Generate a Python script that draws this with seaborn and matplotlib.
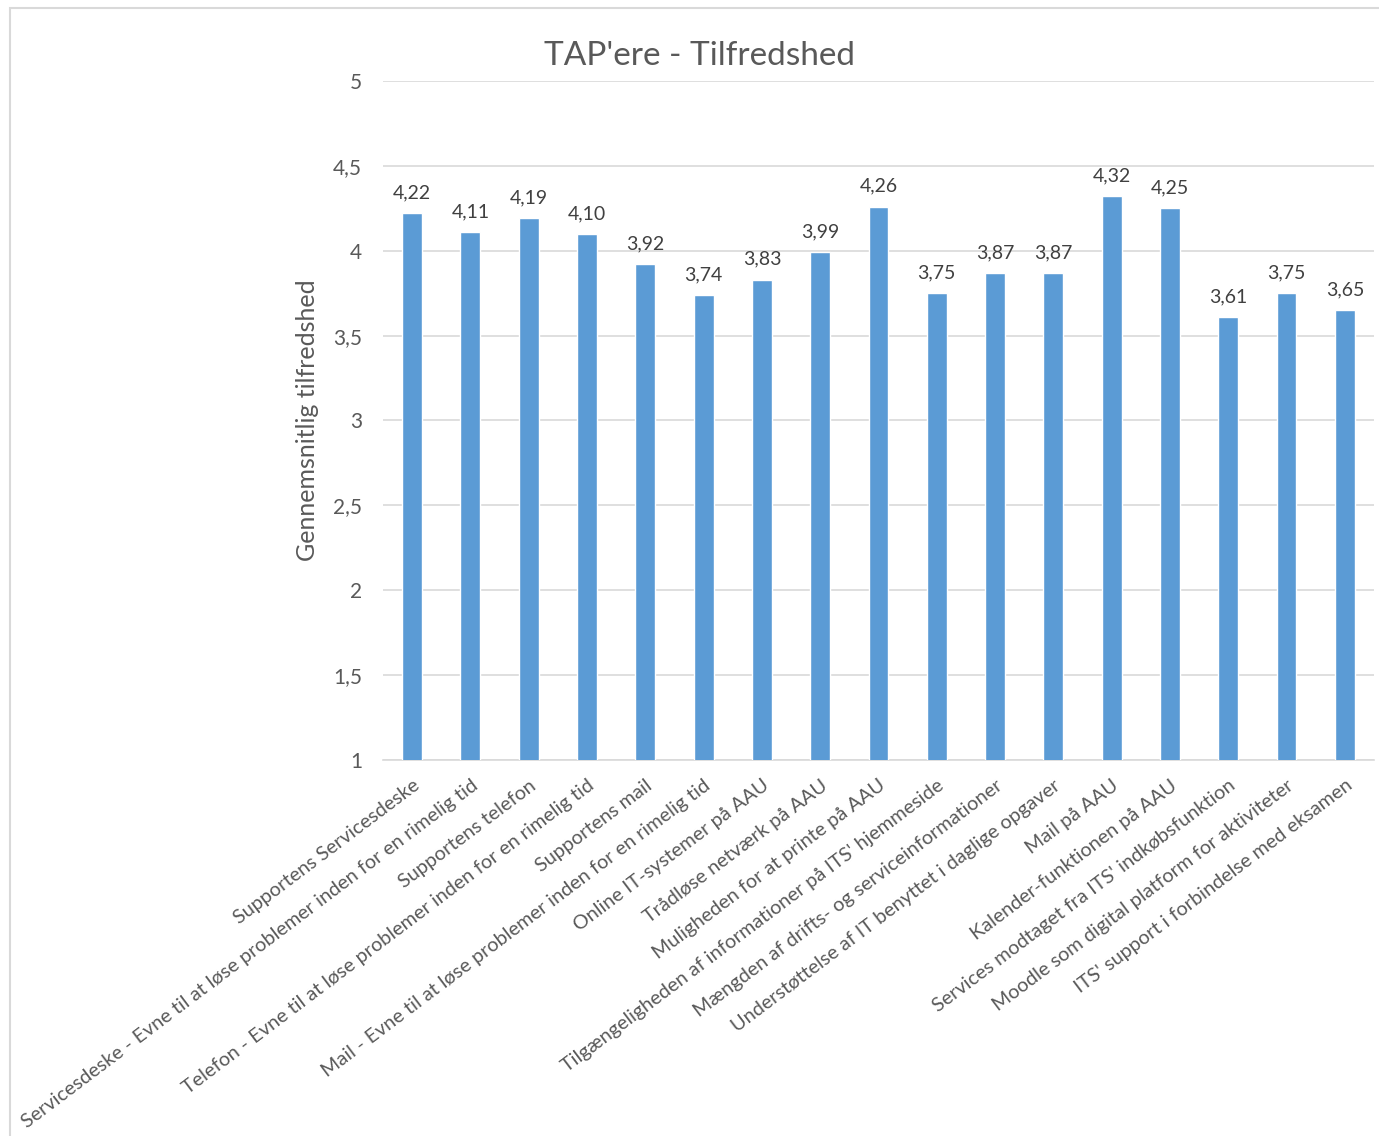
import matplotlib
matplotlib.use("Agg")
import matplotlib.pyplot as plt
import pandas as pd
import seaborn as sns
from matplotlib.patches import Rectangle

categories = [
    "Supportens Servicesdeske",
    "Servicesdeske - Evne til at løse problemer inden for en rimelig tid",
    "Supportens telefon",
    "Telefon - Evne til at løse problemer inden for en rimelig tid",
    "Supportens mail",
    "Mail - Evne til at løse problemer inden for en rimelig tid",
    "Online IT-systemer på AAU",
    "Trådløse netværk på AAU",
    "Muligheden for at printe på AAU",
    "Tilgængeligheden af informationer på ITS' hjemmeside",
    "Mængden af drifts- og serviceinformationer",
    "Understøttelse af IT benyttet i daglige opgaver",
    "Mail på AAU",
    "Kalender-funktionen på AAU",
    "Services modtaget fra ITS' indkøbsfunktion",
    "Moodle som digital platform for aktiviteter",
    "ITS' support i forbindelse med eksamen",
]
scores = [4.22, 4.11, 4.19, 4.10, 3.92, 3.74, 3.83, 3.99, 4.26,
          3.75, 3.87, 3.87, 4.32, 4.25, 3.61, 3.75, 3.65]
yticks = [1, 1.5, 2, 2.5, 3, 3.5, 4, 4.5, 5]

df = pd.DataFrame({"kategori": categories, "score": scores})

sns.set_theme(style="white")
plt.rcParams["font.family"] = ["Lato", "DejaVu Sans"]

fig = plt.figure(figsize=(13.79, 11.36), dpi=100)
ax = fig.add_axes([0.2777, 0.331, 0.7187, 0.5977])

grey = "#595959"
sns.barplot(data=df, x="kategori", y="score", color="#5B9BD5",
            width=0.34, saturation=1, ax=ax, zorder=3)

ax.set_ylim(1, 5)
ax.set_yticks(yticks)
ax.set_yticklabels([f"{t:g}".replace(".", ",") for t in yticks],
                   fontsize=15, color=grey)
ax.yaxis.grid(True, color="#D9D9D9", linewidth=1.2, zorder=0)
ax.tick_params(axis="y", length=0, pad=15)
ax.tick_params(axis="x", length=0, pad=12)
ax.set_xticks(range(len(categories)))
ax.set_xticklabels(categories, rotation=37, ha="right",
                   rotation_mode="anchor", fontsize=14.3, color=grey)
for s in ["top", "right", "left"]:
    ax.spines[s].set_visible(False)
ax.spines["bottom"].set_color("#D9D9D9")
ax.spines["bottom"].set_linewidth(1.2)
ax.set_xlabel("")
ax.set_ylabel("Gennemsnitlig tilfredshed", fontsize=18, color=grey, labelpad=10)

for i, v in enumerate(scores):
    ax.text(i, v + 0.07, f"{v:.2f}".replace(".", ","), ha="center",
            va="bottom", fontsize=14, color="#404040")

fig.text(0.507, 0.951, "TAP'ere - Tilfredshed", ha="center", va="center",
         fontsize=24, color=grey)

fig.patches.append(Rectangle((0.007, -0.01), 1.0, 1.003, transform=fig.transFigure,
                             fill=False, edgecolor="#D9D9D9", linewidth=1.5))

fig.savefig("out.png", dpi=100, facecolor="white")
